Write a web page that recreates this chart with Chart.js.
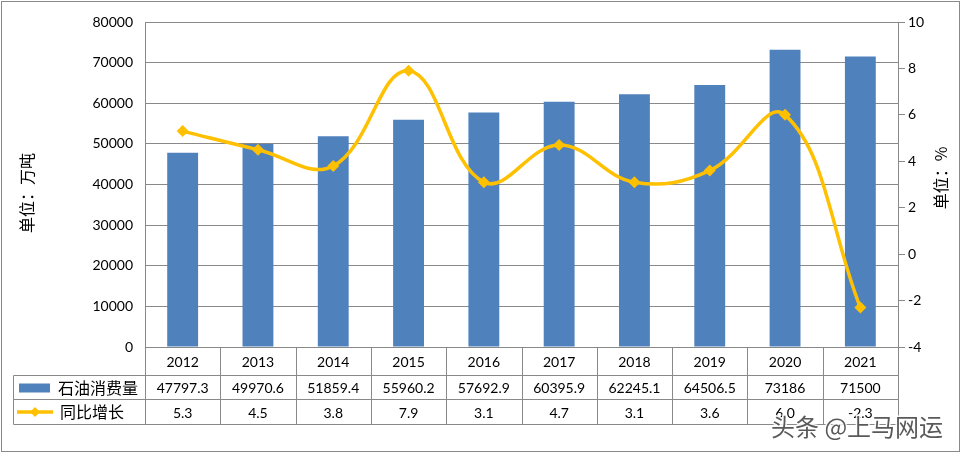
<!DOCTYPE html>
<html>
<head>
<meta charset="utf-8">
<script src="https://cdn.jsdelivr.net/npm/chart.js@4.4.0/dist/chart.umd.min.js"></script>
<style>
body { margin: 0; background: #fff; }
canvas { display: block; }
</style>
</head>
<body>
<canvas id="oilChart" width="961" height="453"></canvas>
<script>
const years = ['2012', '2013', '2014', '2015', '2016', '2017', '2018', '2019', '2020', '2021'];
const consumption = [47797.3, 49970.6, 51859.4, 55960.2, 57692.9, 60395.9, 62245.1, 64506.5, 73186, 71500];
const consumptionLabels = ['47797.3', '49970.6', '51859.4', '55960.2', '57692.9', '60395.9', '62245.1', '64506.5', '73186', '71500'];
const growth = [5.3, 4.5, 3.8, 7.9, 3.1, 4.7, 3.1, 3.6, 6.0, -2.3];
const growthLabels = ['5.3', '4.5', '3.8', '7.9', '3.1', '4.7', '3.1', '3.6', '6.0', '-2.3'];

const seriesNames = ['石油消费量', '同比增长'];
const leftTitle = '单位：万吨';
const rightTitle = '单位：%';
const watermark = '头条 @上马网运';

const BLUE = '#4F81BD';
const GOLD = '#FFC000';
const GRID = '#898989';
const NUM_FONT = 'Lato, "Noto Sans CJK SC", sans-serif';
const CJK_FONT = '"Noto Sans CJK SC", sans-serif';

Chart.defaults.font.family = NUM_FONT;
Chart.defaults.font.size = 14;
Chart.defaults.color = '#000';

// table under the plot, axis titles, frame and watermark
const extras = {
    id: 'extras',
    afterDraw(chart) {
        const ctx = chart.ctx;
        const area = chart.chartArea;
        const xs = chart.scales.x;
        const colW = (area.right - area.left) / years.length;
        const top = Math.round(area.bottom) + 0.5;
        const r1 = top + 28, r2 = r1 + 24, r3 = r2 + 25;
        const tableLeft = 13.5;
        const L = Math.round(area.left) + 0.5;
        const R = Math.round(area.right) + 0.5;

        ctx.save();
        ctx.strokeStyle = GRID;
        ctx.lineWidth = 1;
        ctx.beginPath();
        ctx.moveTo(L, top); ctx.lineTo(R, top);
        [r1, r2, r3].forEach(y => { ctx.moveTo(tableLeft, y); ctx.lineTo(R, y); });
        for (let i = 0; i <= years.length; i++) {
            const vx = Math.round(area.left + i * colW) + 0.5;
            ctx.moveTo(vx, top); ctx.lineTo(vx, r3);
        }
        ctx.moveTo(tableLeft, r1); ctx.lineTo(tableLeft, r3);
        ctx.stroke();

        // cell text
        ctx.fillStyle = '#000';
        ctx.textAlign = 'center';
        ctx.textBaseline = 'middle';
        ctx.font = '14px ' + NUM_FONT;
        years.forEach((y, i) => {
            const cx = xs.getPixelForValue(i);
            ctx.fillText(y, cx, (top + r1) / 2 + 1);
            ctx.fillText(consumptionLabels[i], cx, (r1 + r2) / 2 + 1);
            ctx.fillText(growthLabels[i], cx, (r2 + r3) / 2 + 1);
        });

        // legend keys
        ctx.fillStyle = BLUE;
        ctx.fillRect(19, r1 + 8, 31, 9);
        const ly = (r2 + r3) / 2;
        ctx.strokeStyle = GOLD;
        ctx.lineWidth = 3.5;
        ctx.beginPath(); ctx.moveTo(17, ly); ctx.lineTo(53, ly); ctx.stroke();
        ctx.fillStyle = GOLD;
        ctx.beginPath();
        ctx.moveTo(35, ly - 5); ctx.lineTo(40, ly); ctx.lineTo(35, ly + 5); ctx.lineTo(30, ly);
        ctx.closePath(); ctx.fill();

        ctx.fillStyle = '#000';
        ctx.textAlign = 'left';
        ctx.font = '16px ' + CJK_FONT;
        ctx.fillText(seriesNames[0], 58, (r1 + r2) / 2);
        ctx.fillText(seriesNames[1], 60, ly);

        // axis titles, both read bottom to top
        ctx.textAlign = 'center';
        ctx.save();
        ctx.translate(27, 193);
        ctx.rotate(-Math.PI / 2);
        ctx.fillText(leftTitle, 0, 0);
        ctx.restore();
        ctx.save();
        ctx.translate(941, 178);
        ctx.rotate(-Math.PI / 2);
        ctx.fillText(rightTitle, 0, 0);
        ctx.restore();

        // outer frame
        ctx.strokeStyle = GRID;
        ctx.lineWidth = 1;
        ctx.strokeRect(1.5, 1.5, 958, 450);

        // watermark
        ctx.font = '24px ' + CJK_FONT;
        ctx.textAlign = 'left';
        ctx.lineWidth = 3;
        ctx.strokeStyle = 'rgba(255,255,255,0.9)';
        ctx.strokeText(watermark, 771, 427);
        ctx.fillStyle = 'rgba(60,60,60,0.85)';
        ctx.fillText(watermark, 771, 427);
        ctx.restore();
    }
};

new Chart(document.getElementById('oilChart').getContext('2d'), {
    data: {
        labels: years,
        datasets: [{
            type: 'line',
            label: seriesNames[1],
            data: growth,
            yAxisID: 'y2',
            borderColor: GOLD,
            backgroundColor: GOLD,
            borderWidth: 3.5,
            tension: 0.4,
            pointStyle: 'rectRot',
            pointRadius: 6,
            pointBorderWidth: 0,
            order: 0
        }, {
            type: 'bar',
            label: seriesNames[0],
            data: consumption,
            yAxisID: 'y',
            backgroundColor: BLUE,
            categoryPercentage: 1,
            barPercentage: 0.41,
            order: 1
        }]
    },
    options: {
        responsive: false,
        animation: false,
        layout: { padding: { left: 0, right: 0, top: 22, bottom: 106 } },
        plugins: {
            legend: { display: false },
            tooltip: { enabled: false }
        },
        scales: {
            x: {
                type: 'category',
                offset: true,
                display: false
            },
            y: {
                position: 'left',
                min: 0,
                max: 80000,
                afterFit(scale) { scale.width = 145; },
                ticks: {
                    stepSize: 10000,
                    padding: 12,
                    callback: v => String(v)
                },
                grid: { color: GRID, drawTicks: false, tickLength: 0 },
                border: { display: true, color: GRID }
            },
            y2: {
                position: 'right',
                min: -4,
                max: 10,
                afterFit(scale) { scale.width = 63; },
                ticks: {
                    stepSize: 2,
                    padding: 3,
                    callback: v => String(v)
                },
                grid: { drawOnChartArea: false, color: GRID, tickLength: 7 },
                border: { display: true, color: GRID }
            }
        }
    },
    plugins: [extras]
});
</script>
</body>
</html>
